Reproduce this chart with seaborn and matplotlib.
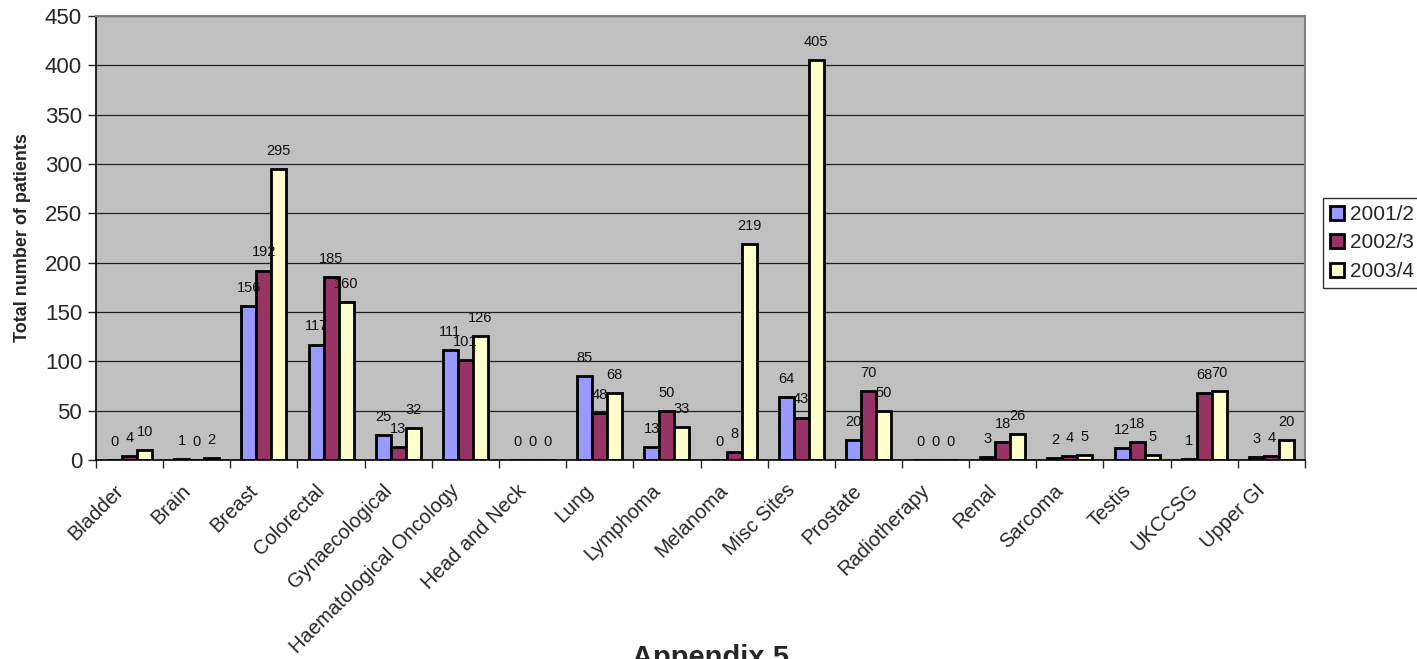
import numpy as np
import pandas as pd
import matplotlib
matplotlib.use("Agg")
import matplotlib.pyplot as plt
import matplotlib.transforms as mtransforms
import seaborn as sns

categories = ["Bladder", "Brain", "Breast", "Colorectal", "Gynaecological",
              "Haematological Oncology", "Head and Neck", "Lung", "Lymphoma",
              "Melanoma", "Misc Sites", "Prostate", "Radiotherapy", "Renal",
              "Sarcoma", "Testis", "UKCCSG", "Upper GI"]
y2001 = [0, 1, 156, 117, 25, 111, 0, 85, 13, 0, 64, 20, 0, 3, 2, 12, 1, 3]
y2002 = [4, 0, 192, 185, 13, 101, 0, 48, 50, 8, 43, 70, 0, 18, 4, 18, 68, 4]
y2003 = [10, 2, 295, 160, 32, 126, 0, 68, 33, 219, 405, 50, 0, 26, 5, 5, 70, 20]
series = ["2001/2", "2002/3", "2003/4"]
colors = ["#9999FF", "#993366", "#FFFFCC"]

df = pd.DataFrame({
    "category": categories * 3,
    "year": np.repeat(series, len(categories)),
    "patients": y2001 + y2002 + y2003,
})

sns.set_style("white")
plt.rcParams["font.family"] = ["Liberation Sans", "DejaVu Sans"]

W, H = 1417, 659
fig = plt.figure(figsize=(W / 100, H / 100), dpi=100)
ax = fig.add_axes([96 / W, 1 - 460 / H, (1305 - 96) / W, (460 - 16) / H])
ax.set_facecolor("#C0C0C0")

sns.barplot(data=df, x="category", y="patients", hue="year", hue_order=series,
            order=categories, palette=colors, width=0.67, edgecolor="black",
            linewidth=2, ax=ax, legend=True, saturation=1)

for cont in ax.containers:
    ax.bar_label(cont, fmt="%d", padding=8, fontsize=10.5, color="#111111")

ax.set_ylim(0, 450)
ax.set_xlim(-0.5, len(categories) - 0.5)
ax.set_yticks(np.arange(0, 451, 50))
ax.yaxis.grid(True, color="#202020", linewidth=0.9)
ax.set_axisbelow(True)
ax.tick_params(axis="y", direction="out", length=6, width=1, labelsize=16,
               left=True, pad=4)

# category labels under the groups, tick marks on the category boundaries
ax.set_xticks(np.arange(len(categories)))
ax.set_xticklabels(categories, rotation=45, ha="right", va="top",
                   rotation_mode="anchor", fontsize=14.5)
ax.tick_params(axis="x", which="major", length=0, pad=15)
shift = mtransforms.ScaledTranslation(-16 / 100, 0, fig.dpi_scale_trans)
for lbl in ax.get_xticklabels():
    lbl.set_transform(lbl.get_transform() + shift)
ax.set_xticks(np.arange(len(categories) + 1) - 0.5, minor=True)
ax.tick_params(axis="x", which="minor", direction="out", length=6, width=1, bottom=True)

ax.set_xlabel("")
ax.set_ylabel("Total number of patients", fontsize=13, fontweight="bold", labelpad=10)

for side in ["left", "bottom"]:
    ax.spines[side].set_color("black")
    ax.spines[side].set_linewidth(1.2)
for side in ["top", "right"]:
    ax.spines[side].set_color("#808080")
    ax.spines[side].set_linewidth(1.5)

leg = ax.legend(loc="center left", bbox_to_anchor=(1323 / W, 1 - 243 / H),
                bbox_transform=fig.transFigure, frameon=True, fancybox=False,
                edgecolor="black", fontsize=15, handlelength=0.65,
                handleheight=0.65, handletextpad=0.3, borderpad=0.35,
                labelspacing=0.45, borderaxespad=0)
leg.get_frame().set_linewidth(1)
for h in leg.legend_handles:
    h.set_linewidth(2)
leg.set_title(None)

fig.text(711 / W, 1 - 666 / H, "Appendix 5", ha="center", va="baseline",
         fontsize=21, fontweight="bold")

fig.savefig("out.png", dpi=100)
